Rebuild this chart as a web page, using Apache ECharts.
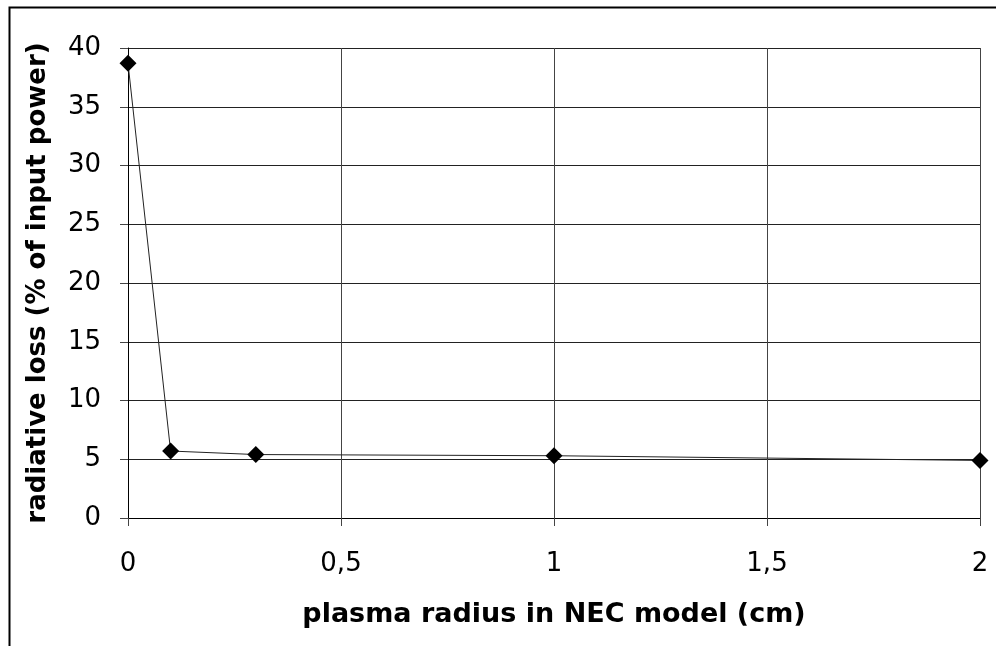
<!DOCTYPE html>
<html>
<head>
<meta charset="utf-8">
<script src="https://cdn.jsdelivr.net/npm/echarts@6/dist/echarts.min.js"></script>
<style>
  html, body { margin: 0; padding: 0; background: #fff; }
  #chart { width: 996px; height: 646px; }
</style>
</head>
<body>
<div id="chart"></div>
<script>
// plasma radius (cm) vs radiative loss (% of input power)
const radius = [0, 0.1, 0.3, 1, 2];
const loss = [38.7, 5.7, 5.4, 5.3, 4.9];
const xTicks = [0, 0.5, 1, 1.5, 2];

const chart = echarts.init(document.getElementById("chart"));
const font = "DejaVu Sans, Arial, sans-serif";

chart.setOption({
    animation: false,
    backgroundColor: "#fff",
    graphic: [
        {
            type: "rect",
            left: 7,
            top: 5,
            shape: { width: 1000, height: 700 },
            style: { fill: "none", stroke: "#000", lineWidth: 2 },
            silent: true,
        },
    ],
    grid: {
        left: 128,
        right: 16,
        top: 48,
        bottom: 128,
        containLabel: false,
    },
    xAxis: {
        type: "value",
        min: 0,
        max: 2,
        interval: 0.5,
        name: "plasma radius in NEC model (cm)",
        nameLocation: "middle",
        nameGap: 83,
        nameTextStyle: {
            fontFamily: font,
            fontSize: 27,
            fontWeight: "bold",
            color: "#000",
        },
        axisLine: { show: true, lineStyle: { color: "#000", width: 1 } },
        axisTick: { show: true, length: 8, lineStyle: { color: "#444" } },
        axisLabel: {
            fontFamily: font,
            fontSize: 26,
            color: "#000",
            margin: 33,
            formatter: function (v) {
                return xTicks.indexOf(v) >= 0 ? String(v).replace(".", ",") : "";
            },
        },
        splitLine: { show: true, lineStyle: { color: "#444", width: 1 } },
    },
    yAxis: {
        type: "value",
        min: 0,
        max: 40,
        interval: 5,
        name: "radiative loss (% of input power)",
        nameLocation: "middle",
        nameGap: 77,
        nameTextStyle: {
            fontFamily: font,
            fontSize: 26,
            fontWeight: "bold",
            color: "#000",
        },
        axisLine: { show: true, lineStyle: { color: "#000", width: 1 } },
        axisTick: { show: true, length: 8, lineStyle: { color: "#444" } },
        axisLabel: {
            fontFamily: font,
            fontSize: 26,
            color: "#000",
            margin: 27,
        },
        splitLine: { show: true, lineStyle: { color: "#222", width: 1 } },
    },
    series: [
        {
            type: "line",
            data: radius.map((r, i) => [r, loss[i]]),
            symbol: "diamond",
            symbolSize: 17,
            itemStyle: { color: "#000" },
            lineStyle: { color: "#222", width: 1 },
        },
    ],
});
</script>
</body>
</html>
